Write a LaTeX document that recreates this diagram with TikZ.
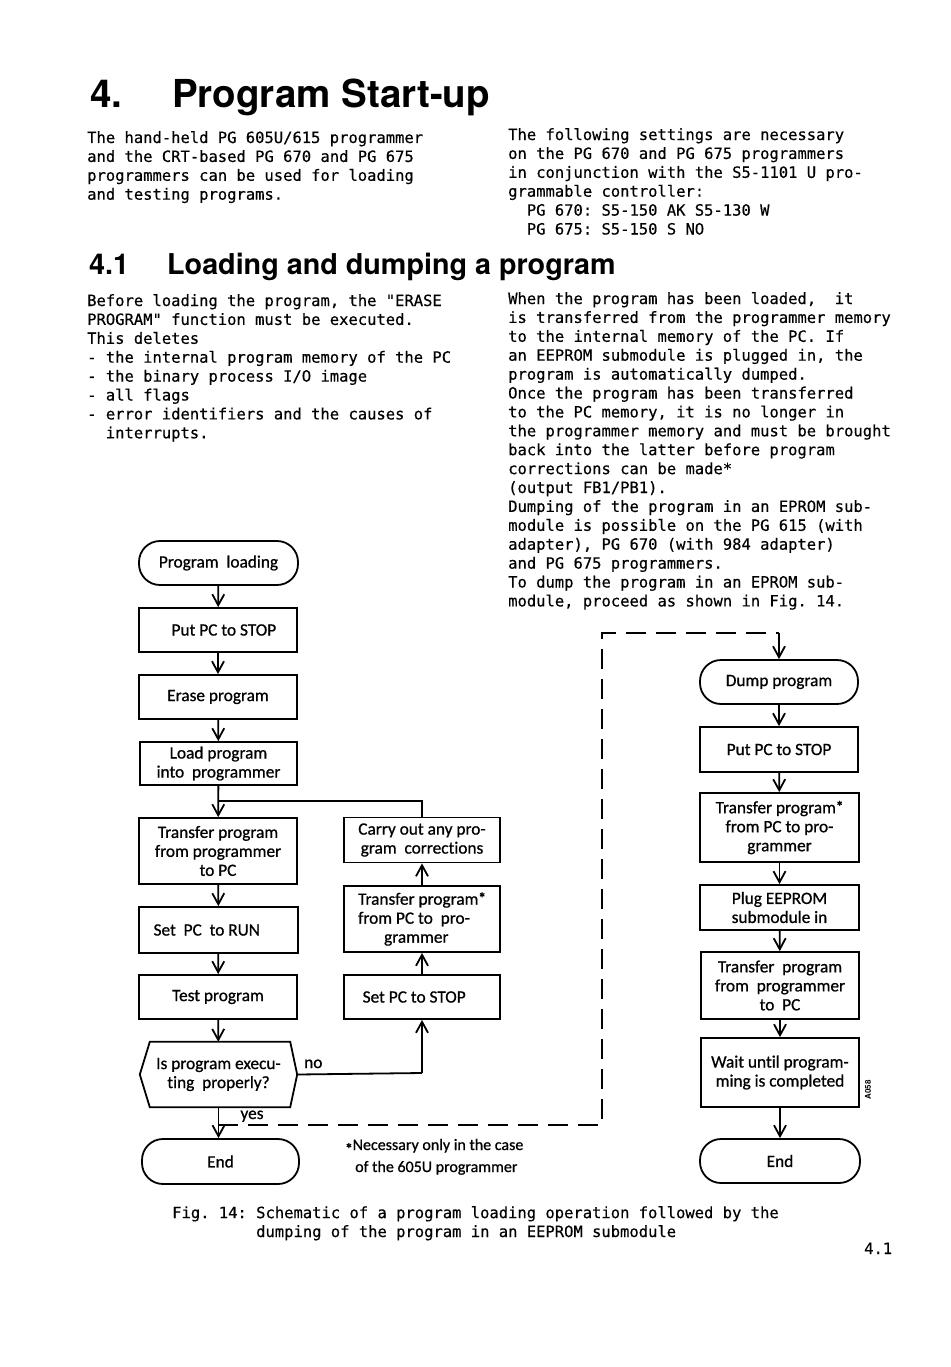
\documentclass[tikz,border=0pt]{standalone}
\usepackage{fontspec}
\usetikzlibrary{arrows.meta}
\newfontfamily\mono{DejaVu Sans Mono}[FakeBold=0.4]
\newfontfamily\flow{Carlito}[FakeBold=0.8,Ligatures=NoCommon]
\newfontfamily\head{TeX Gyre Heros}
\frenchspacing
\tikzset{
  body/.style={font=\mono\fontsize{15.5}{18.9}\selectfont, anchor=base west, inner sep=0pt, align=left},
  fbox/.style={draw, line width=1.8pt, inner sep=0pt, font=\flow\fontsize{17.3}{19}\selectfont, align=center},
  term/.style={fbox, rounded corners=21pt},
  conn/.style={line width=1.8pt},
  arr/.style={conn, -{Straight Barb[length=11pt,width=12pt,line width=1.8pt]}},
  dashconn/.style={conn, dash pattern=on 20pt off 10pt},
  lbl/.style={font=\flow\fontsize{17.3}{19}\selectfont, inner sep=0pt}
}
\newcommand\fstar{\raisebox{0.2ex}{\bfseries\fontsize{15}{15}\selectfont *}}
\begin{document}
\begin{tikzpicture}[x=1pt,y=-1pt]
\useasboundingbox[fill=white] (0,0) rectangle (950,1367);

% headings
\node[anchor=base west, inner sep=0pt, font=\head\bfseries\fontsize{38.5}{44}\selectfont] (h1num) at (90,108) {4.};
\node[anchor=base west, inner sep=0pt, font=\head\bfseries\fontsize{38.5}{44}\selectfont] (h1) at (172,108) {Program Start-up};
\node[anchor=base west, inner sep=0pt, font=\head\bfseries\fontsize{28.7}{32}\selectfont] (h2num) at (89,274) {4.1};
\node[anchor=base west, inner sep=0pt, font=\head\bfseries\fontsize{28.7}{32}\selectfont] (h2) at (167,274) {Loading and dumping a program};

% body text (anchored at the baseline of the last line)
\node[body] (t1) at (87,199.7) {The hand-held PG 605U/615 programmer\\
and the CRT-based PG 670 and PG 675\\
programmers can be used for loading\\
and testing programs.};

\node[body] (t2) at (508,234.5) {The following settings are necessary\\
on the PG 670 and PG 675 programmers\\
in conjunction with the S5-1101 U pro-\\
grammable controller:\\
\ \ PG 670: S5-150 AK S5-130 W\\
\ \ PG 675: S5-150 S NO};

\node[body] (t3) at (87,438.3) {Before loading the program, the "ERASE\\
PROGRAM" function must be executed.\\
This deletes\\
- the internal program memory of the PC\\
- the binary process I/O image\\
- all flags\\
- error identifiers and the causes of\\
\ \ interrupts.};

\node[body] (t4) at (508,606.4) {When the program has been loaded,\ \ it\\
is transferred from the programmer memory\\
to the internal memory of the PC. If\\
an EEPROM submodule is plugged in, the\\
program is automatically dumped.\\
Once the program has been transferred\\
to the PC memory, it is no longer in\\
the programmer memory and must be brought\\
back into the latter before program\\
corrections can be made*\\
(output FB1/PB1).\\
Dumping of the program in an EPROM sub-\\
module is possible on the PG 615 (with\\
adapter), PG 670 (with 984 adapter)\\
and PG 675 programmers.\\
To dump the program in an EPROM sub-\\
module, proceed as shown in Fig. 14.};

\node[body] (cap) at (172,1237) {Fig. 14: Schematic of a program loading operation followed by the\\
\ \ \ \ \ \ \ \ \ dumping of the program in an EEPROM submodule};
\node[body] (pg) at (864,1254) {4.1};

% left column
\node[term, minimum width=159pt, minimum height=44pt] (pl) at (218.5,563) {Program\ \ loading};
\node[fbox, minimum width=158pt, minimum height=44pt] (s1) at (218,630) {\ \ \ Put\ PC to STOP};
\node[fbox, minimum width=158pt, minimum height=44pt] (s2) at (218,697) {Erase program};
\node[fbox, minimum width=157pt, minimum height=43pt] (s3) at (218.5,763.5) {Load program\\into\ \ programmer};
\node[fbox, minimum width=158pt, minimum height=66pt] (s4) at (218,851) {Transfer program\\from programmer\\to PC};
\node[fbox, minimum width=159pt, minimum height=46pt] (s5) at (218.5,930) {Set\ \ PC\ \ to RUN\ \ \ \ \ \ };
\node[fbox, minimum width=158pt, minimum height=44pt] (s6) at (218,997) {Test program};
\node[lbl, minimum width=157pt, minimum height=65pt, align=center] (dec) at (218.5,1074.5) {Is program execu-\\ting\ \ properly?};
\draw[line width=1.8pt, line join=miter]
  ([xshift=10pt]dec.north west) -- ([xshift=-7pt]dec.north east) -- (dec.east)
  -- ([xshift=-7pt]dec.south east) -- ([xshift=10pt]dec.south west) -- (dec.west) -- cycle;
\node[term, minimum width=157pt, minimum height=45pt] (e1) at (220.5,1161.5) {End};

% middle column
\node[fbox, minimum width=156pt, minimum height=45pt] (m1) at (422,840) {Carry out any pro-\\gram\ \ corrections};
\node[fbox, minimum width=156pt, minimum height=66pt, align=left] (m2) at (422,919) {Transfer program\fstar\\from PC to\ \ pro-\\\hspace*{26pt}grammer};
\node[fbox, minimum width=156pt, minimum height=44pt] (m3) at (422,997) {Set PC to STOP\ \ \ \ };

% right column
\node[term, minimum width=158pt, minimum height=44pt] (r0) at (779,682) {Dump program};
\node[fbox, minimum width=158pt, minimum height=45pt] (r1) at (779,749.5) {Put PC to STOP};
\node[fbox, minimum width=159pt, minimum height=69pt] (r2) at (779.5,827.5) {Transfer program\fstar\\from PC to pro-\\grammer};
\node[fbox, minimum width=159pt, minimum height=45pt] (r3) at (779.5,907.5) {Plug EEPROM\\submodule in};
\node[fbox, minimum width=158pt, minimum height=67pt] (r4) at (780,985.5) {Transfer\ \ program\\from\ \ programmer\\to\ \ PC};
\node[fbox, minimum width=158pt, minimum height=69pt] (r5) at (780,1072.5) {Wait until program-\\ming is completed};
\node[term, minimum width=160pt, minimum height=44pt] (r6) at (780,1161) {End};
\node[rotate=90, inner sep=0pt, font=\head\bfseries\fontsize{8}{9}\selectfont] (code) at (868,1090) {A058};

% footnote
\node[anchor=base west, align=left, inner sep=0pt, font=\flow\fontsize{16}{22}\selectfont] (fn) at (345,1172) {\raisebox{-0.5ex}{\bfseries\fontsize{15}{15}\selectfont *}Necessary only in the case\\\hspace*{10pt}of the 605U programmer};

% connectors left
\draw[arr] (pl) -- (s1);
\draw[arr] (s1) -- (s2);
\draw[arr] (s2) -- (s3);
\draw[arr] (s3) -- (s4);
\coordinate (jn) at (218,801);
\draw[conn] (m1.north) |- (jn);
\draw[arr] (s4) -- (s5);
\draw[arr] (s5) -- (s6);
\draw[arr] (s6) -- (dec);
\draw[arr] (dec) -- (e1.north -| dec.south);
% no branch
\coordinate (nocorner) at (422,1073);
\draw[conn] (dec.east) -- (nocorner);
\draw[arr] (nocorner) -- (m3.south);
\node[lbl, anchor=base west] (no) at (304,1068) {no};
\node[lbl, anchor=base] (yes) at (252,1119) {yes};
% middle up
\draw[arr] (m3) -- (m2);
\draw[arr] (m2) -- (m1);
% dashed link
\coordinate (dy) at (218,1125);
\coordinate (dbr) at (602,1125);
\coordinate (dtl) at (602,633);
\coordinate (dtr) at (779,633);
\draw[dashconn] (dy) -- (dbr) -- (dtl) -- (dtr);
\draw[arr] (dtr) -- (r0.north);
% right connectors
\draw[arr] (r0) -- (r1);
\draw[arr] (r1) -- (r2);
\draw[arr] (r2) -- (r3);
\draw[arr] (r3) -- (r4);
\draw[arr] (r4) -- (r5);
\draw[arr] (r5) -- (r6);
\end{tikzpicture}
\end{document}
